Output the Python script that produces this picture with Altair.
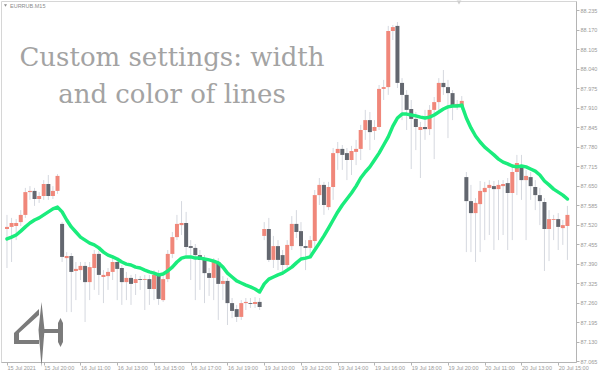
import json

import altair as alt
import pandas as pd

# ---- data -------------------------------------------------------------
symbol = "EURRUB.M15"
headline = ["Custom settings: width", "and color of lines"]

# time labels, one every 8 bars (M15 candles)
x_labels = [
    "15 Jul 2021", "15 Jul 20:00", "16 Jul 11:00", "16 Jul 13:00",
    "16 Jul 15:00", "16 Jul 17:00", "16 Jul 19:00", "19 Jul 10:00",
    "19 Jul 12:00", "19 Jul 14:00", "19 Jul 16:00", "19 Jul 18:00",
    "19 Jul 20:00", "20 Jul 11:00", "20 Jul 13:00", "20 Jul 15:00",
]
x_label_step = 8

y_ticks = [
    87.065, 87.130, 87.195, 87.260, 87.325, 87.390, 87.455, 87.520, 87.585,
    87.650, 87.715, 87.780, 87.845, 87.910, 87.975, 88.040, 88.105, 88.170,
    88.235,
]

opens = [
    87.505, 87.512, 87.515, 87.528, 87.552, 87.628, 87.632, 87.605, 87.615, 87.655,
    87.615, 87.632, 87.522, 87.408, 87.415, 87.365, 87.368, 87.382, 87.328, 87.375,
    87.422, 87.345, 87.348, 87.362, 87.395, 87.375, 87.328, 87.342, 87.325, 87.338,
    87.335, 87.338, 87.305, 87.352, 87.268, 87.338, 87.422, 87.478, 87.518, 87.525,
    87.448, 87.442, 87.418, 87.402, 87.358, 87.342, 87.395, 87.322, 87.332, 87.258,
    87.238, 87.212, 87.258, 87.258, 87.255, 87.262, 87.482, 87.505, 87.402, 87.448,
    87.418, 87.385, 87.448, 87.522, 87.498, 87.448, 87.442, 87.465, 87.618, 87.652,
    87.578, 87.645, 87.758, 87.772, 87.758, 87.735, 87.762, 87.772, 87.835, 87.868,
    87.832, 87.845, 87.972, 87.978, 88.165, 88.182, 87.992, 87.952, 87.905, 87.872,
    87.835, 87.845, 87.838, 87.902, 87.928, 87.992, 87.978, 87.958, 87.915, 87.915,
    87.678, 87.598, 87.558, 87.588, 87.628, 87.642, 87.648, 87.638, 87.648, 87.658,
    87.625, 87.695, 87.712, 87.668, 87.678, 87.645, 87.618, 87.595, 87.505, 87.535,
    87.538, 87.508, 87.515,
]
highs = [
    87.552, 87.542, 87.538, 87.568, 87.642, 87.648, 87.642, 87.628, 87.668, 87.685,
    87.648, 87.688, 87.528, 87.428, 87.425, 87.395, 87.395, 87.395, 87.395, 87.435,
    87.432, 87.368, 87.375, 87.408, 87.408, 87.385, 87.362, 87.352, 87.355, 87.348,
    87.352, 87.352, 87.368, 87.368, 87.348, 87.435, 87.495, 87.552, 87.598, 87.562,
    87.468, 87.455, 87.435, 87.418, 87.375, 87.408, 87.408, 87.348, 87.342, 87.275,
    87.252, 87.268, 87.275, 87.275, 87.278, 87.275, 87.528, 87.542, 87.482, 87.468,
    87.435, 87.468, 87.548, 87.568, 87.528, 87.468, 87.482, 87.635, 87.675, 87.662,
    87.662, 87.775, 87.795, 87.785, 87.775, 87.782, 87.802, 87.852, 87.902, 87.895,
    87.868, 87.985, 88.002, 88.182, 88.185, 88.195, 88.008, 87.968, 87.935, 87.895,
    87.862, 87.902, 87.918, 87.945, 88.008, 88.035, 88.002, 87.968, 87.935, 87.948,
    87.695, 87.652, 87.608, 87.665, 87.662, 87.668, 87.665, 87.668, 87.668, 87.675,
    87.718, 87.752, 87.752, 87.702, 87.695, 87.668, 87.642, 87.608, 87.568, 87.552,
    87.558, 87.535, 87.582,
]
lows = [
    87.375, 87.395, 87.468, 87.515, 87.542, 87.602, 87.582, 87.592, 87.602, 87.602,
    87.605, 87.622, 87.395, 87.228, 87.228, 87.268, 87.335, 87.195, 87.268, 87.302,
    87.285, 87.258, 87.302, 87.335, 87.268, 87.252, 87.268, 87.252, 87.285, 87.302,
    87.235, 87.252, 87.268, 87.252, 87.262, 87.328, 87.408, 87.468, 87.485, 87.418,
    87.335, 87.268, 87.302, 87.258, 87.282, 87.268, 87.202, 87.268, 87.185, 87.208,
    87.195, 87.202, 87.235, 87.242, 87.242, 87.235, 87.468, 87.395, 87.375, 87.368,
    87.362, 87.375, 87.435, 87.475, 87.402, 87.368, 87.408, 87.435, 87.585, 87.552,
    87.568, 87.602, 87.702, 87.702, 87.668, 87.685, 87.718, 87.735, 87.802, 87.768,
    87.802, 87.835, 87.935, 87.952, 88.135, 87.975, 87.868, 87.835, 87.705, 87.768,
    87.675, 87.802, 87.818, 87.738, 87.902, 87.952, 87.808, 87.868, 87.902, 87.902,
    87.428, 87.428, 87.395, 87.428, 87.468, 87.485, 87.435, 87.468, 87.485, 87.435,
    87.468, 87.618, 87.602, 87.468, 87.602, 87.568, 87.518, 87.365, 87.398, 87.468,
    87.435, 87.452, 87.402,
]
closes = [
    87.512, 87.525, 87.525, 87.552, 87.628, 87.632, 87.605, 87.615, 87.655, 87.615,
    87.632, 87.682, 87.412, 87.415, 87.362, 87.372, 87.382, 87.328, 87.378, 87.422,
    87.352, 87.352, 87.362, 87.395, 87.372, 87.328, 87.342, 87.322, 87.338, 87.335,
    87.338, 87.305, 87.352, 87.272, 87.338, 87.422, 87.478, 87.522, 87.525, 87.445,
    87.442, 87.418, 87.402, 87.358, 87.342, 87.395, 87.322, 87.332, 87.258, 87.232,
    87.212, 87.258, 87.262, 87.255, 87.262, 87.245, 87.505, 87.402, 87.448, 87.402,
    87.385, 87.452, 87.522, 87.495, 87.448, 87.442, 87.468, 87.618, 87.652, 87.585,
    87.645, 87.758, 87.772, 87.752, 87.735, 87.765, 87.772, 87.835, 87.868, 87.828,
    87.845, 87.972, 87.978, 88.165, 88.178, 87.992, 87.952, 87.902, 87.872, 87.845,
    87.845, 87.838, 87.902, 87.928, 87.992, 87.978, 87.958, 87.915, 87.922, 87.932,
    87.598, 87.558, 87.592, 87.632, 87.642, 87.652, 87.638, 87.652, 87.655, 87.625,
    87.695, 87.725, 87.668, 87.682, 87.648, 87.618, 87.598, 87.505, 87.538, 87.538,
    87.512, 87.518, 87.552,
]
# moving average line, one value per bar
ma = [
    87.472, 87.478, 87.485, 87.498, 87.512, 87.525, 87.535, 87.542, 87.552, 87.562,
    87.572, 87.578, 87.562, 87.535, 87.512, 87.495, 87.478, 87.468, 87.458, 87.452,
    87.442, 87.428, 87.418, 87.412, 87.405, 87.395, 87.388, 87.385, 87.378, 87.375,
    87.368, 87.362, 87.358, 87.352, 87.355, 87.365, 87.378, 87.395, 87.408, 87.412,
    87.412, 87.408, 87.408, 87.405, 87.402, 87.398, 87.392, 87.378, 87.358, 87.345,
    87.332, 87.325, 87.318, 87.312, 87.305, 87.295, 87.322, 87.338, 87.345, 87.352,
    87.358, 87.368, 87.378, 87.392, 87.405, 87.408, 87.412, 87.435, 87.458, 87.482,
    87.508, 87.535, 87.562, 87.585, 87.605, 87.625, 87.648, 87.675, 87.695, 87.712,
    87.735, 87.758, 87.785, 87.812, 87.848, 87.875, 87.888, 87.888, 87.885, 87.882,
    87.878, 87.875, 87.878, 87.885, 87.895, 87.905, 87.912, 87.915, 87.915, 87.918,
    87.875, 87.842, 87.815, 87.795, 87.778, 87.765, 87.752, 87.738, 87.728, 87.722,
    87.715, 87.712, 87.715, 87.712, 87.705, 87.698, 87.685, 87.665, 87.652, 87.638,
    87.628, 87.618, 87.605,
]

# ---- styling ----------------------------------------------------------
BULL = "#f0877a"
BEAR = "#63676f"
WICK = "#d5d8df"
MA_COLOR = "#1aec7c"
AXIS_GREY = "#b4b4b4"
LABEL_GREY = "#9a9a9a"
SMALL_FONT = "Liberation Sans"

W, H = 575, 361
X_DOMAIN = [-0.214, 122.78]
Y_DOMAIN = [87.0617, 88.265]

bars = pd.DataFrame({
    "bar": range(len(opens)),
    "open": opens,
    "high": highs,
    "low": lows,
    "close": closes,
})
avg = pd.DataFrame({"bar": range(len(ma)), "ma": ma})
one = pd.DataFrame({"k": [0]})

label_expr = f"{json.dumps(x_labels)}[round(datum.value / {x_label_step})]"

x_axis = alt.Axis(
    values=list(range(0, x_label_step * len(x_labels), x_label_step)),
    labelExpr=label_expr, labelAlign="left", labelBaseline="top",
    grid=False, title=None, domainColor=AXIS_GREY, tickColor=AXIS_GREY,
    tickSize=3, labelPadding=0, labelColor=LABEL_GREY, labelFontSize=5.5,
    labelFont=SMALL_FONT, labelFlush=False, labelOverlap=False, labelBound=False,
)
y_axis = alt.Axis(
    orient="right", values=y_ticks, format=".3f", grid=False, title=None,
    domainColor=AXIS_GREY, tickColor=AXIS_GREY, tickSize=3, labelPadding=1,
    labelColor=LABEL_GREY, labelFontSize=5.5, labelFont=SMALL_FONT,
    labelFlush=False, labelOverlap=False,
)
x_scale = alt.Scale(domain=X_DOMAIN, nice=False, zero=False)
y_scale = alt.Scale(domain=Y_DOMAIN, nice=False, zero=False)

X = alt.X("bar:Q", scale=x_scale, axis=x_axis)


def Y(field):
    return alt.Y(field, type="quantitative", scale=y_scale, axis=y_axis)


base = alt.Chart(bars)

wicks = base.mark_rule(color=WICK, strokeWidth=1).encode(
    x=X, y=Y("low"), y2="high"
)

bodies = base.mark_bar(width=4).encode(
    x=X,
    y=Y("open"),
    y2="close",
    color=alt.condition("datum.close >= datum.open", alt.value(BULL), alt.value(BEAR)),
)

ma_line = alt.Chart(avg).mark_line(
    color=MA_COLOR, strokeWidth=3.5, strokeJoin="round", strokeCap="round"
).encode(x=X, y=Y("ma"))

title_text = alt.Chart(one).mark_text(
    align="center", baseline="alphabetic", font="DejaVu Serif",
    fontSize=26, color="#a3a3a3", lineHeight=37,
).encode(x=alt.value(171), y=alt.value(65), text=alt.value(headline))

symbol_text = alt.Chart(one).mark_text(
    align="left", baseline="middle", font=SMALL_FONT, fontSize=5.5, color="#8c8c8c"
).encode(x=alt.value(9), y=alt.value(4.5), text=alt.value(symbol))

symbol_arrow = alt.Chart(one).mark_point(
    shape="triangle-down", filled=True, size=9, color="#8c8c8c", opacity=1
).encode(x=alt.value(4.5), y=alt.value(4.5))

shift_marker = alt.Chart(one).mark_point(
    shape="triangle-down", filled=True, size=22, color="#cfcfcf", opacity=1
).encode(x=alt.value(458), y=alt.value(1.5))

# "4H" brand mark drawn as one custom symbol path
LOGO_PATH = (
    "M0.076,-0.970L0.167,-0.121L0.076,1.0L-0.015,-0.121Z "
    "M0,-0.758L0,-0.576L-0.606,-0.030L-0.606,0.182L0,0.182L0,0.303"
    "L-0.758,0.303L-0.758,-0.030Z "
    "M0.152,-0.152L0.636,-0.152L0.636,-0.030L0.152,-0.030Z "
    "M0.652,-0.485L0.727,-0.333L0.727,0.242L0.652,0.394L0.576,0.242L0.576,-0.333Z"
)
logo = alt.Chart(one).mark_point(
    shape=LOGO_PATH, filled=True, size=4356, color="#7b7b7b", opacity=1, strokeWidth=0
).encode(x=alt.value(38), y=alt.value(333))

chart = alt.layer(
    wicks, bodies, ma_line, title_text, symbol_text, symbol_arrow, shift_marker, logo
).properties(
    width=W,
    height=H,
    autosize="none",
    padding={"left": 1, "top": 1, "right": 24, "bottom": 13},
    background="white",
).configure_view(stroke="#d6d6d6", strokeWidth=1)

chart.save("out.html", embed_options={"renderer": "svg", "actions": False})
